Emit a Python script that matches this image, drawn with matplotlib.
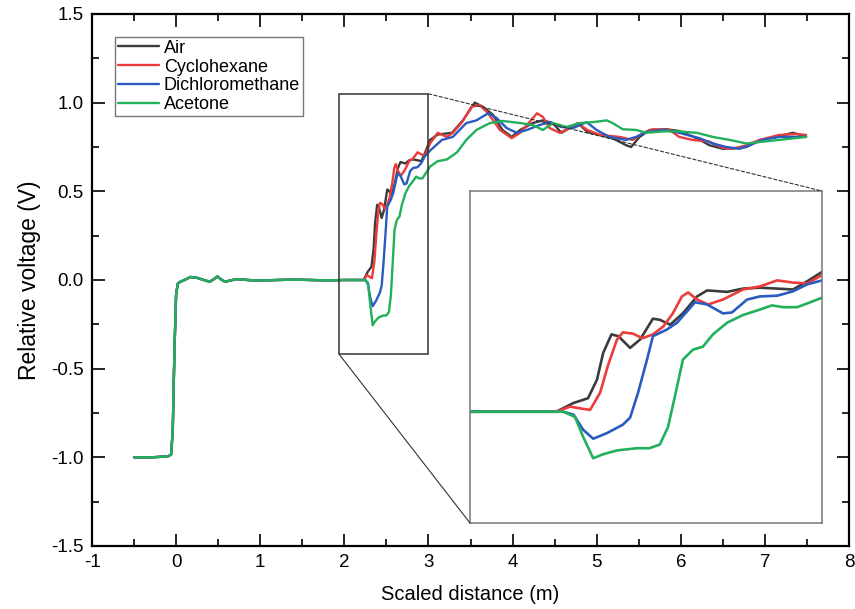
import matplotlib
matplotlib.use("Agg")
import matplotlib.pyplot as plt
from matplotlib.patches import Rectangle, ConnectionPatch
from matplotlib.ticker import MultipleLocator, FormatStrFormatter
import numpy as np

plt.rcParams['font.family'] = ['Liberation Sans', 'DejaVu Sans']
plt.rcParams['axes.unicode_minus'] = False

# ---------------- data ----------------
labels = ["Air", "Cyclohexane", "Dichloromethane", "Acetone"]
colors = ["#3c3c3c", "#ec3b3b", "#2a5cc0", "#22b05a"]

# common early part (all four curves coincide)
base_x = [-0.5, -0.3, -0.1, -0.06, -0.04, -0.02, 0.0, 0.02, 0.05, 0.1, 0.17, 0.25, 0.33, 0.4,
          0.45, 0.49, 0.53, 0.58, 0.65, 0.72, 0.85, 1.0, 1.2, 1.4, 1.6, 1.8, 2.0, 2.2]
base_y = [-1.0, -1.0, -0.995, -0.985, -0.85, -0.4, -0.08, -0.02, -0.01, 0.0, 0.017, 0.012, 0.0, -0.01,
          0.005, 0.02, 0.005, -0.01, -0.002, 0.005, 0.0, -0.003, 0.0, 0.002, 0.0, -0.002, 0.0, 0.0]

air_x = [2.23, 2.28, 2.322, 2.348, 2.366, 2.39, 2.41, 2.444, 2.473, 2.51, 2.53, 2.56, 2.597, 2.638,
         2.667, 2.725, 2.771, 2.82, 2.87, 2.916, 2.957, 3.02, 3.11, 3.28, 3.41, 3.55, 3.65, 3.77,
         3.88, 3.99, 4.09, 4.24, 4.36, 4.48, 4.58, 4.70, 4.80, 4.89, 5.04, 5.19, 5.35, 5.41, 5.51,
         5.63, 5.83, 5.98, 6.19, 6.34, 6.50, 6.66, 6.78, 6.94, 7.17, 7.33, 7.49]
air_y = [0.0, 0.048, 0.074, 0.176, 0.323, 0.424, 0.414, 0.35, 0.396, 0.51, 0.504, 0.477, 0.54, 0.632,
         0.665, 0.657, 0.675, 0.68, 0.675, 0.67, 0.715, 0.79, 0.82, 0.83, 0.90, 1.0, 0.976, 0.93,
         0.846, 0.807, 0.846, 0.885, 0.90, 0.885, 0.83, 0.863, 0.874, 0.835, 0.818, 0.80, 0.76, 0.75, 0.807,
         0.846, 0.85, 0.84, 0.80, 0.76, 0.74, 0.744, 0.75, 0.79, 0.81, 0.83, 0.81]

cyc_x = [2.23, 2.27, 2.30, 2.328, 2.357, 2.38, 2.406, 2.423, 2.452, 2.48, 2.51, 2.54, 2.568, 2.594,
         2.612, 2.638, 2.67, 2.713, 2.771, 2.82, 2.87, 2.916, 2.957, 3.02, 3.11, 3.22, 3.29, 3.40,
         3.51, 3.61, 3.71, 3.85, 3.99, 4.09, 4.20, 4.29, 4.36, 4.44, 4.56, 4.68, 4.77, 4.89, 5.04,
         5.27, 5.43, 5.55, 5.67, 5.87, 5.98, 6.14, 6.34, 6.50, 6.62, 6.78, 6.94, 7.17, 7.37, 7.49]
cyc_y = [0.0, 0.028, 0.018, 0.01, 0.104, 0.255, 0.396, 0.435, 0.428, 0.403, 0.424, 0.467, 0.54, 0.632,
         0.654, 0.615, 0.588, 0.615, 0.67, 0.687, 0.72, 0.708, 0.703, 0.77, 0.83, 0.807, 0.83, 0.89,
         0.976, 0.987, 0.94, 0.846, 0.80, 0.83, 0.89, 0.94, 0.92, 0.857, 0.83, 0.857, 0.885, 0.846, 0.818,
         0.807, 0.79, 0.83, 0.85, 0.846, 0.807, 0.79, 0.78, 0.745, 0.74, 0.76, 0.79, 0.818, 0.823, 0.818]

dcm_x = [2.25, 2.28, 2.308, 2.337, 2.377, 2.423, 2.444, 2.467, 2.493, 2.51, 2.55, 2.58, 2.609, 2.632,
         2.667, 2.713, 2.739, 2.783, 2.82, 2.87, 2.916, 2.957, 3.02, 3.16, 3.29, 3.45, 3.57, 3.71,
         3.81, 3.93, 4.05, 4.17, 4.32, 4.44, 4.58, 4.72, 4.88, 5.0, 5.15, 5.35, 5.47, 5.59, 5.79,
         5.98, 6.22, 6.38, 6.54, 6.70, 6.82, 6.97, 7.17, 7.49]
dcm_y = [0.0, -0.016, -0.099, -0.148, -0.117, -0.071, -0.032, 0.104, 0.286, 0.414, 0.45, 0.488, 0.55, 0.60,
         0.588, 0.539, 0.544, 0.615, 0.632, 0.636, 0.66, 0.698, 0.73, 0.79, 0.807, 0.885, 0.90, 0.94,
         0.914, 0.857, 0.83, 0.846, 0.874, 0.89, 0.863, 0.857, 0.89, 0.846, 0.807, 0.79, 0.807, 0.835, 0.846,
         0.83, 0.80, 0.77, 0.75, 0.74, 0.76, 0.79, 0.807, 0.807]

ace_x = [2.25, 2.284, 2.308, 2.337, 2.366, 2.406, 2.464, 2.50, 2.53, 2.554, 2.58, 2.597, 2.626, 2.655,
         2.684, 2.725, 2.771, 2.82, 2.855, 2.887, 2.928, 2.966, 3.02, 3.11, 3.22, 3.34, 3.45, 3.57,
         3.73, 3.88, 4.09, 4.24, 4.36, 4.48, 4.64, 4.80, 4.95, 5.12, 5.19, 5.31, 5.47, 5.59, 5.79,
         5.98, 6.19, 6.38, 6.58, 6.78, 6.97, 7.17, 7.49]
ace_y = [0.0, -0.028, -0.138, -0.255, -0.233, -0.212, -0.20, -0.20, -0.18, -0.083, 0.138, 0.286, 0.34, 0.357,
         0.424, 0.488, 0.53, 0.56, 0.583, 0.573, 0.573, 0.60, 0.64, 0.67, 0.68, 0.72, 0.79, 0.846,
         0.885, 0.897, 0.885, 0.874, 0.846, 0.885, 0.863, 0.885, 0.89, 0.90, 0.885, 0.85, 0.846, 0.83, 0.838,
         0.838, 0.83, 0.807, 0.79, 0.77, 0.78, 0.79, 0.807]

series_x = [air_x, cyc_x, dcm_x, ace_x]
series_y = [air_y, cyc_y, dcm_y, ace_y]

x_ticks = [-1, 0, 1, 2, 3, 4, 5, 6, 7, 8]
y_ticks = [-1.5, -1.0, -0.5, 0.0, 0.5, 1.0, 1.5]
zoom_box = (1.94, -0.42, 3.0, 1.05)   # x0, y0, x1, y1
inset_xlim = (1.98, 3.0)
inset_ylim = (-0.61, 1.21)

# ---------------- figure ----------------
fig = plt.figure(figsize=(8.55, 6.09), dpi=100)
ax = fig.add_axes([92/855, 63/609, 757/855, 532/609])

for xs, ys, lab, c in zip(series_x, series_y, labels, colors):
    ax.plot(base_x + xs, base_y + ys, color=c, lw=1.7, label=lab,
            solid_joinstyle='round', solid_capstyle='round')

ax.set_xlim(-1, 8)
ax.set_ylim(-1.5, 1.5)
ax.set_xticks(x_ticks)
ax.set_yticks(y_ticks)
ax.yaxis.set_major_formatter(FormatStrFormatter('%.1f'))
ax.xaxis.set_minor_locator(MultipleLocator(0.5))
ax.yaxis.set_minor_locator(MultipleLocator(0.25))
ax.tick_params(which='both', direction='in', top=True, right=True, width=1.2, labelsize=13.5, pad=6)
ax.tick_params(which='major', length=9)
ax.tick_params(which='minor', length=5)
for s in ax.spines.values():
    s.set_linewidth(1.6)
ax.set_xlabel("Scaled distance (m)", fontsize=14.5, labelpad=10)
ax.set_ylabel("Relative voltage (V)", fontsize=16.5, labelpad=7)

leg = ax.legend(loc='upper left', bbox_to_anchor=(115/855, 1 - 37/609), bbox_transform=fig.transFigure,
                fontsize=13, frameon=True, fancybox=False, borderaxespad=0, borderpad=0.15,
                handlelength=2.3, handletextpad=0.25, labelspacing=0.1)
leg.get_frame().set_edgecolor('#555555')
leg.get_frame().set_linewidth(1.0)

# zoom rectangle
x0, y0, x1, y1 = zoom_box
ax.add_patch(Rectangle((x0, y0), x1 - x0, y1 - y0, fill=False, edgecolor='#333333', lw=1.1, zorder=5))

# inset
axins = fig.add_axes([470/855, 86/609, 352/855, 332/609])
for xs, ys, lab, c in zip(series_x, series_y, labels, colors):
    axins.plot(base_x + xs, base_y + ys, color=c, lw=1.9,
               solid_joinstyle='round', solid_capstyle='round')
axins.set_xlim(*inset_xlim)
axins.set_ylim(*inset_ylim)
axins.set_xticks([])
axins.set_yticks([])
for s in axins.spines.values():
    s.set_edgecolor('#777777')
    s.set_linewidth(1.1)

con1 = ConnectionPatch(xyA=(x1, y1), coordsA='data', axesA=ax,
                       xyB=(1, 1), coordsB='axes fraction', axesB=axins,
                       linestyle=(0, (3, 2)), color='#333333', lw=0.8)
fig.add_artist(con1)
con2 = ConnectionPatch(xyA=(x0, y0), coordsA='data', axesA=ax,
                       xyB=(0, 0), coordsB='axes fraction', axesB=axins,
                       color='#333333', lw=0.8)
fig.add_artist(con2)

fig.savefig("out.png", dpi=100)
